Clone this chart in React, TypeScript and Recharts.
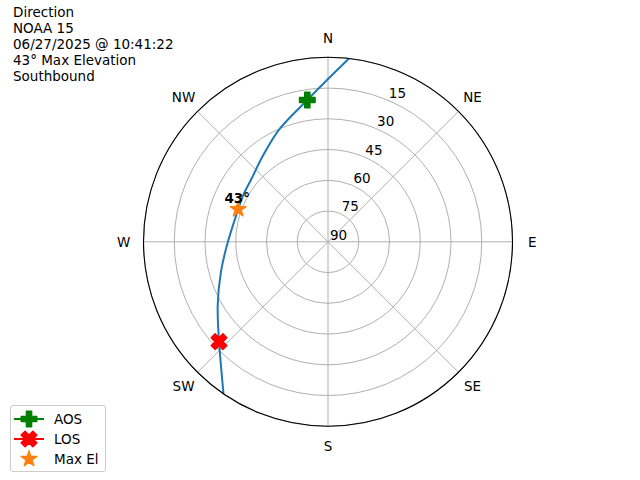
import React from 'react';
import { RadarChart, Radar, PolarGrid, PolarAngleAxis, PolarRadiusAxis, Legend } from 'recharts';

// pass track, azimuth (deg from north, clockwise) and elevation (deg)
const azimuth = [6.5, 0, 351.7, 337.1, 323.3, 309.8, 298.9, 289.9, 269.7, 254.4, 240.2, 227.5, 214.5];
const elevation = [0, 10.6, 20.1, 29.9, 37.2, 41.6, 42.8, 43.4, 41.1, 35.8, 28.0, 17.9, 0];

// [azimuth, elevation]
const aosPoint = [351.7, 20.1];
const losPoint = [227.5, 17.9];
const maxElPoint = [289.9, 43.4];
const maxElLabel = '43°';

const compassAz = [0, 45, 90, 135, 180, 225, 270, 315];
const compassLabels = ['N', 'NE', 'E', 'SE', 'S', 'SW', 'W', 'NW'];
const elevationTicks = [0, 15, 30, 45, 60, 75, 90];

const titleLines = ['Direction', 'NOAA 15', '06/27/2025 @ 10:41:22', '43° Max Elevation', 'Southbound'];

const legendItems = [
  { name: 'AOS', color: '#008000', shape: 'plus', line: true },
  { name: 'LOS', color: '#ff0000', shape: 'x', line: true },
  { name: 'Max El', color: '#ff7f0e', shape: 'star', line: false },
];

// radius is zenith distance so that 90° elevation sits in the centre
const data: any[] = [
  ...azimuth.map((az, i) => ({ az, track: 90 - elevation[i] })),
  { az: aosPoint[0], aos: 90 - aosPoint[1] },
  { az: losPoint[0], los: 90 - losPoint[1] },
  { az: maxElPoint[0], maxEl: 90 - maxElPoint[1] },
];

const CX = 328;
const CY = 241.8;
const R = 184.5;
const FONT = '"DejaVu Sans", sans-serif';
const MS = 15.5;

const plusPath = (x: number, y: number, s: number) => {
  const h = s / 2;
  const a = s / 6;
  return `M${x - a},${y - h}H${x + a}V${y - a}H${x + h}V${y + a}H${x + a}V${y + h}H${x - a}V${y + a}H${x - h}V${y - a}H${x - a}Z`;
};

const starPath = (x: number, y: number, s: number) => {
  const ro = s / 2 + 0.6;
  const ri = ro * 0.381966;
  let d = '';
  for (let i = 0; i < 10; i++) {
    const r = i % 2 === 0 ? ro : ri;
    const t = (i * 36 * Math.PI) / 180;
    d += `${i === 0 ? 'M' : 'L'}${x + r * Math.sin(t)},${y - r * Math.cos(t)}`;
  }
  return d + 'Z';
};

const Marker = ({ shape, x, y, color }: { shape: string; x: number; y: number; color: string }) => {
  if (shape === 'plus')
    return <path d={plusPath(x, y, MS)} fill={color} stroke={color} strokeWidth={1.5} strokeLinejoin="round" />;
  if (shape === 'x')
    return (
      <path
        d={plusPath(x, y, MS + 1)}
        transform={`rotate(45 ${x} ${y})`}
        fill={color}
        stroke={color}
        strokeWidth={1.5}
        strokeLinejoin="round"
      />
    );
  return <path d={starPath(x, y, MS)} fill={color} stroke={color} strokeWidth={1.2} strokeLinejoin="round" />;
};

const rowOf = (p: any) => (p && p.payload && typeof p.payload === 'object' && 'az' in p.payload ? p.payload : p);

// smooth open curve through the points the radar computed (skip rows without a value)
const trackShape = (props: any) => {
  const pts = (props.points || []).filter((p: any) => {
    const row = rowOf(p);
    return row && row.track != null && Number.isFinite(p.x) && Number.isFinite(p.y);
  });
  let d = pts.length ? `M${pts[0].x},${pts[0].y}` : '';
  for (let i = 0; i < pts.length - 1; i++) {
    const p0 = pts[i - 1] || pts[i];
    const p1 = pts[i];
    const p2 = pts[i + 1];
    const p3 = pts[i + 2] || p2;
    const c1x = p1.x + (p2.x - p0.x) / 6;
    const c1y = p1.y + (p2.y - p0.y) / 6;
    const c2x = p2.x - (p3.x - p1.x) / 6;
    const c2y = p2.y - (p3.y - p1.y) / 6;
    d += `C${c1x},${c1y} ${c2x},${c2y} ${p2.x},${p2.y}`;
  }
  return <path d={d} fill="none" stroke="#1f77b4" strokeWidth={2} strokeLinejoin="round" />;
};

const emptyShape = () => <g />;

const makeDot = (key: string, shape: string, color: string, label?: string) => (props: any) => {
  const { cx, cy } = props;
  const row = rowOf(props.payload);
  if (!row || row[key] == null || !Number.isFinite(cx) || !Number.isFinite(cy)) return <g key={props.index} />;
  return (
    <g key={props.index}>
      <Marker shape={shape} x={cx} y={cy} color={color} />
      {label && (
        <text x={cx - 1} y={cy - 6} textAnchor="middle" fontSize={13.5} fontWeight="bold" fontFamily={FONT} fill="#000">
          {label}
        </text>
      )}
    </g>
  );
};

const AngleTick = (props: any) => {
  const az = Number(props.payload.value);
  const rad = (az * Math.PI) / 180;
  const x = CX + (R + 19.8) * Math.sin(rad);
  const y = CY - (R + 19.8) * Math.cos(rad);
  return (
    <text x={x} y={y} textAnchor="middle" dominantBaseline="central" fontSize={13.5} fontFamily={FONT} fill="#000">
      {compassLabels[compassAz.indexOf(az)]}
    </text>
  );
};

const RadiusTick = (props: any) => {
  const z = Number(props.payload.value);
  if (z >= 90) return null;
  return (
    <text x={props.x + 2} y={props.y - 2} textAnchor="start" fontSize={13.5} fontFamily={FONT} fill="#000">
      {90 - z}
    </text>
  );
};

const LegendBox = () => (
  <div
    style={{
      width: 94,
      height: 65,
      border: '1px solid #cccccc',
      borderRadius: 3,
      background: 'rgba(255,255,255,0.8)',
      fontFamily: FONT,
      fontSize: 13.5,
      boxSizing: 'content-box',
    }}
  >
    {legendItems.map((it, i) => (
      <div key={it.name} style={{ position: 'absolute', left: 0, top: 4 + i * 20, height: 20, display: 'flex', alignItems: 'center' }}>
        <svg width={44} height={20} style={{ display: 'block' }}>
          {it.line && <line x1={4} x2={34} y1={10} y2={10} stroke={it.color} strokeWidth={2} />}
          <Marker shape={it.shape} x={19} y={10} color={it.color} />
        </svg>
        <span style={{ color: '#000' }}>{it.name}</span>
      </div>
    ))}
  </div>
);

export default function App() {
  return (
    <div style={{ position: 'absolute', left: 0, top: 0, width: 640, height: 480, background: '#fff' }}>
      <div
        style={{
          position: 'absolute',
          left: 13,
          top: 4,
          fontFamily: FONT,
          fontSize: 13.5,
          lineHeight: '16.1px',
          color: '#000',
          zIndex: 2,
        }}
      >
        {titleLines.map((t) => (
          <div key={t}>{t}</div>
        ))}
      </div>
      <RadarChart
        width={640}
        height={480}
        data={data}
        cx={CX}
        cy={CY}
        outerRadius={R}
        innerRadius={0}
        startAngle={90}
        endAngle={-270}
        margin={{ top: 0, right: 0, bottom: 0, left: 0 }}
      >
        <PolarGrid gridType="circle" stroke="#b0b0b0" strokeWidth={1} />
        <PolarAngleAxis
          dataKey="az"
          type="number"
          domain={[0, 360]}
          ticks={compassAz}
          tick={AngleTick}
          tickLine={false}
          axisLineType="circle"
          axisLine={{ stroke: '#000', strokeWidth: 1.1 }}
        />
        <PolarRadiusAxis
          type="number"
          domain={[0, 90]}
          ticks={elevationTicks}
          angle={67.5}
          tick={RadiusTick}
          axisLine={false}
          tickLine={false}
          allowDataOverflow
        />
        <Radar
          dataKey="track"
          stroke="#1f77b4"
          strokeWidth={2}
          fill="none"
          fillOpacity={0}
          dot={false}
          shape={trackShape}
          isAnimationActive={false}
          legendType="none"
        />
        <Radar dataKey="aos" shape={emptyShape} stroke="none" fill="none" dot={makeDot('aos', 'plus', '#008000')} isAnimationActive={false} legendType="none" />
        <Radar dataKey="los" shape={emptyShape} stroke="none" fill="none" dot={makeDot('los', 'x', '#ff0000')} isAnimationActive={false} legendType="none" />
        <Radar
          dataKey="maxEl"
          shape={emptyShape}
          stroke="none"
          fill="none"
          dot={makeDot('maxEl', 'star', '#ff7f0e', maxElLabel)}
          isAnimationActive={false}
          legendType="none"
        />
        <Legend
          content={() => <LegendBox />}
          wrapperStyle={{ position: 'absolute', left: 10, top: 405, width: 96, height: 67, bottom: 'auto', right: 'auto' }}
        />
      </RadarChart>
    </div>
  );
}
